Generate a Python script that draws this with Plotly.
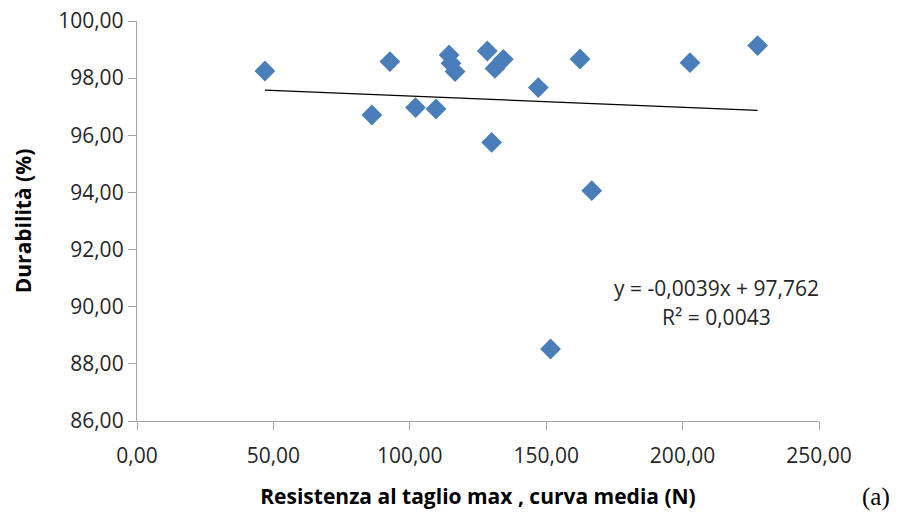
import plotly.graph_objects as go

# Shear strength (max, mean curve) in N and durability in %
resistenza = [46.9, 86.1, 92.7, 102.1, 109.6, 114.4, 115.1, 116.6, 128.4,
              134.3, 131.2, 147.1, 130.0, 162.4, 202.7, 227.5, 166.7, 151.6]
durabilita = [98.25, 96.71, 98.58, 96.97, 96.92, 98.81, 98.52, 98.23, 98.95,
              98.66, 98.34, 97.67, 95.75, 98.67, 98.54, 99.14, 94.06, 88.52]

# Linear trend reported on the chart
slope = -0.0039
intercept = 97.762
r2 = 0.0043

x_min, x_max = min(resistenza), max(resistenza)
trend_x = [x_min, x_max]
trend_y = [slope * v + intercept for v in trend_x]

FAMILY = "Open Sans, Lato, sans-serif"
tick_font = dict(family=FAMILY, size=21, color="#262626")
title_font = dict(family=FAMILY, size=21, color="black")

fig = go.Figure()
fig.add_trace(go.Scatter(
    x=trend_x, y=trend_y, mode="lines",
    line=dict(color="black", width=1.2), hoverinfo="skip", showlegend=False,
))
fig.add_trace(go.Scatter(
    x=resistenza, y=durabilita, mode="markers",
    marker=dict(symbol="diamond", size=16, color="#4a7ebb"),
    showlegend=False,
))

eq_text = f"y = {slope:.4f}x + {intercept:.3f}".replace(".", ",")
r2_text = f"R² = {r2:.4f}".replace(".", ",")
fig.add_annotation(x=212.6, y=90.66, xref="x", yref="y", text=eq_text,
                   showarrow=False, font=tick_font)
fig.add_annotation(x=212.6, y=89.64, xref="x", yref="y", text=r2_text,
                   showarrow=False, font=tick_font)

L, R, T, B = 137, 81, 21, 96
W, H = 900, 517
fig.add_annotation(
    x=(876 - L) / (W - L - R), y=(H - B - 497) / (H - B - T),
    xref="paper", yref="paper", text="(a)", showarrow=False,
    xanchor="center", yanchor="middle",
    font=dict(family="Liberation Serif, Times New Roman, serif", size=25, color="black"),
)

fig.update_layout(
    width=W, height=H,
    margin=dict(l=L, r=R, t=T, b=B, autoexpand=False),
    paper_bgcolor="white", plot_bgcolor="white",
    separators=",.",
    font=tick_font,
)

fig.update_xaxes(
    range=[0, 250], dtick=50, tickformat=".2f",
    showgrid=False, zeroline=False, automargin=False,
    showline=True, linecolor="#a6a6a6", linewidth=1.3,
    ticks="outside", ticklen=8, tickcolor="#a6a6a6",
    ticklabelstandoff=8,
    tickfont=tick_font,
    title=dict(text="<b>Resistenza al taglio max , curva media (N)</b>",
               font=title_font, standoff=20),
)
fig.update_yaxes(
    range=[86, 100], dtick=2, tickformat=".2f",
    showgrid=False, zeroline=False, automargin=False,
    showline=True, linecolor="#a6a6a6", linewidth=1.3,
    ticks="outside", ticklen=8, tickcolor="#a6a6a6",
    tickfont=tick_font,
    title=dict(text="<b>Durabilità (%)</b>", font=title_font, standoff=20),
)

fig.write_html("out.html")
